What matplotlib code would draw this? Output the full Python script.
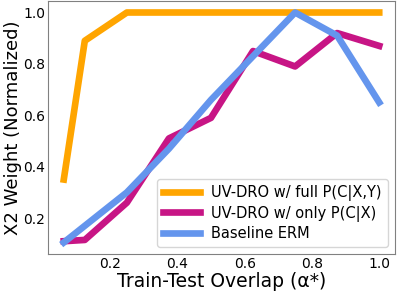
import numpy as np
import matplotlib
matplotlib.use("Agg")
import matplotlib.pyplot as plt

# train-test overlap values
overlap = [0.0625, 0.125, 0.25, 0.375, 0.5, 0.625, 0.75, 0.875, 1.0]

full_cxy = [0.35, 0.89, 1.0, 1.0, 1.0, 1.0, 1.0, 1.0, 1.0]
only_cx = [0.11, 0.115, 0.26, 0.51, 0.59, 0.85, 0.79, 0.92, 0.87]
baseline = [0.105, 0.17, 0.30, 0.47, 0.66, 0.83, 1.0, 0.91, 0.65]

labels = ['UV-DRO w/ full P(C|X,Y)',
          'UV-DRO w/ only P(C|X)',
          'Baseline ERM']
colors = ['orange', 'mediumvioletred', 'cornflowerblue']

fig = plt.figure(figsize=(3.98, 2.94), dpi=100)
ax = fig.add_axes([48/398, 1 - 254/294, 347/398, 253/294])

for y, lab, c in zip([full_cxy, only_cx, baseline], labels, colors):
    ax.plot(overlap, y, color=c, linewidth=4.8, label=lab)

ax.set_xticks([0.2, 0.4, 0.6, 0.8, 1.0])
ax.set_yticks([0.2, 0.4, 0.6, 0.8, 1.0])
ax.tick_params(length=0, pad=2, labelsize=10)
for s in ax.spines.values():
    s.set_color('gray')

ax.set_xlabel('Train-Test Overlap (α*)', fontsize=13.5, labelpad=1)
ax.set_ylabel('X2 Weight (Normalized)', fontsize=13, labelpad=1)
ax.legend(loc='lower right', fontsize=10.5, handlelength=2.5,
          labelspacing=0.3, borderaxespad=0.5)

fig.savefig('out.png', dpi=100)
